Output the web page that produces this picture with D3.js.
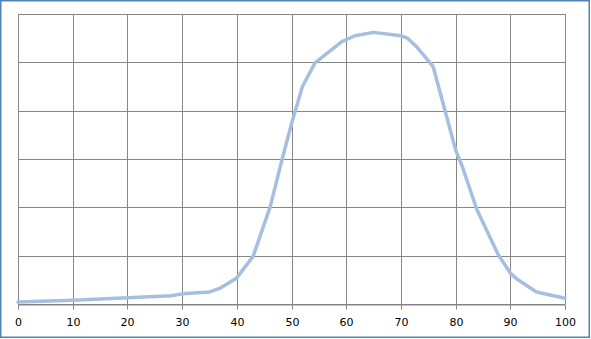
<!DOCTYPE html>
<html>
<head>
<meta charset="utf-8">
<script src="https://cdn.jsdelivr.net/npm/d3@7"></script>
<style>
  body { margin: 0; background: #fff; }
  .x_axis text { font-family: "DejaVu Sans", Verdana, sans-serif; font-size: 11px; fill: #000; }
</style>
</head>
<body>
<div id="chart"></div>
<script>
// curve (x, y in grid units of 10)
const xValues = [0, 10, 20, 28, 30, 35, 37, 40, 43, 43.6, 46.1, 48.3, 50, 52, 54.3, 59.2, 61.6, 65, 70, 71.2, 72.9, 75.9, 80, 81.2, 83.9, 87.8, 90, 91.4, 94.8, 100];
const yValues = [0.4, 0.8, 1.3, 1.7, 2.1, 2.5, 3.3, 5.4, 9.9, 11.9, 20.1, 30.0, 37.3, 45.0, 49.9, 54.3, 55.5, 56.2, 55.5, 55.0, 53.2, 49.1, 31.9, 28.5, 19.5, 10.2, 6.4, 5.0, 2.5, 1.2];
const xTicks = [0, 10, 20, 30, 40, 50, 60, 70, 80, 90, 100];
const yTicks = [0, 10, 20, 30, 40, 50, 60];

const W = 591, H = 339;
const margin = {top: 14, right: 26, bottom: 35, left: 18};

const svg = d3.select("#chart").append("svg")
    .attr("width", W)
    .attr("height", H);

// outer border
svg.append("rect")
    .attr("x", 0.75).attr("y", 0.75)
    .attr("width", W - 2.5).attr("height", H - 2.5)
    .attr("fill", "#fff")
    .attr("stroke", "#4f81bd")
    .attr("stroke-width", 1.5);

const x = d3.scaleLinear().domain([0, 100]).range([margin.left, W - margin.right]);
const y = d3.scaleLinear().domain([0, 60]).range([H - margin.bottom, margin.top]);

const grid = svg.append("g").attr("stroke", "#868686").attr("stroke-width", 1);

grid.selectAll(".vgrid").data(xTicks)
    .enter().append("line")
    .attr("class", "vgrid")
    .attr("x1", d => Math.round(x(d)) + 0.5).attr("x2", d => Math.round(x(d)) + 0.5)
    .attr("y1", y(60)).attr("y2", y(0));

grid.selectAll(".hgrid").data(yTicks)
    .enter().append("line")
    .attr("class", "hgrid")
    .attr("x1", x(0)).attr("x2", x(100))
    .attr("y1", d => Math.round(y(d)) + 0.5).attr("y2", d => Math.round(y(d)) + 0.5);

// x axis
const xAxis = svg.append("g")
    .attr("class", "x_axis")
    .attr("transform", `translate(0, ${Math.round(y(0)) + 0.5})`)
    .call(d3.axisBottom(x).tickValues(xTicks).tickSize(5).tickPadding(9));
xAxis.select(".domain").attr("stroke", "#868686");
xAxis.selectAll(".tick line").attr("stroke", "#868686")
    .attr("transform", function() { return "translate(" + (0) + ",0)"; });
xAxis.selectAll(".tick").attr("transform", d => `translate(${Math.round(x(d)) + 0.5},0)`);

const pts = xValues.map((d, i) => [d, yValues[i]]);

svg.append("path")
    .datum(pts)
    .attr("fill", "none")
    .attr("stroke", "#a7bfde")
    .attr("stroke-width", 3.5)
    .attr("stroke-linejoin", "round")
    .attr("stroke-linecap", "round")
    .attr("d", d3.line().x(d => x(d[0])).y(d => y(d[1])));
</script>
</body>
</html>
